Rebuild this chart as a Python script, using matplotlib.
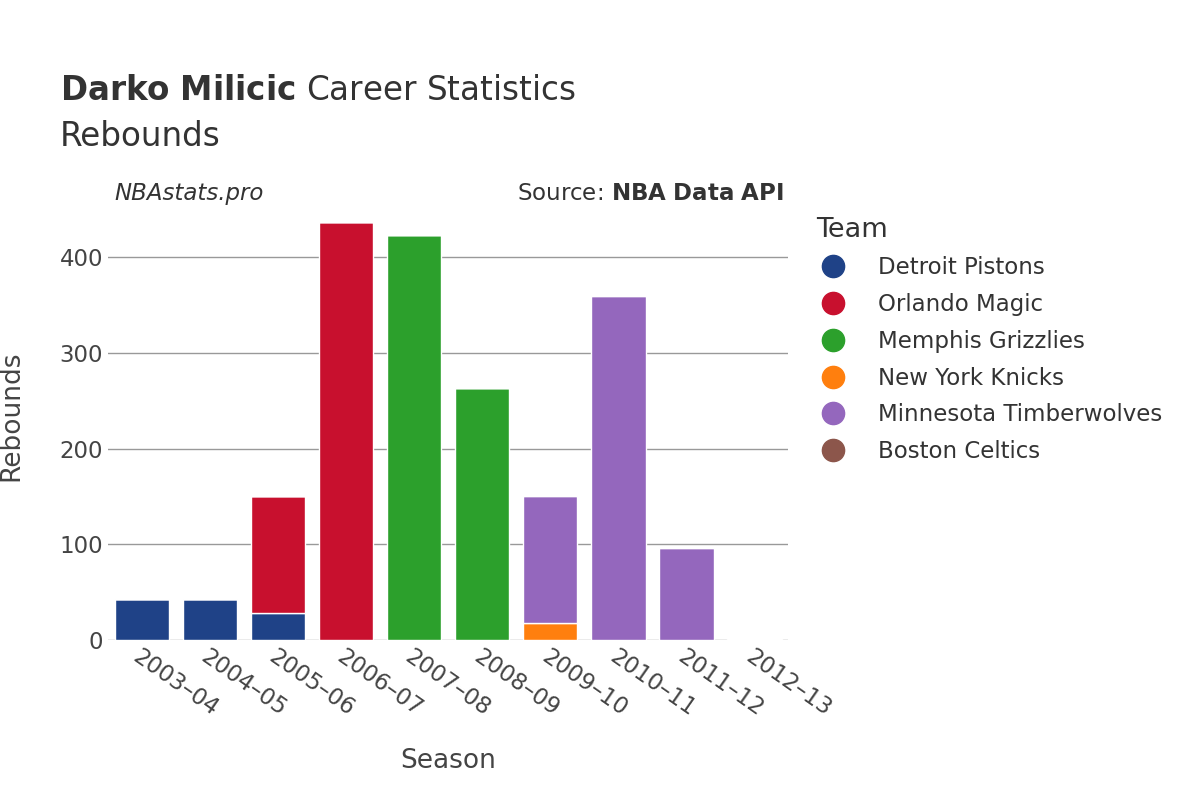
import matplotlib
matplotlib.use("Agg")
import matplotlib.pyplot as plt
from matplotlib.lines import Line2D
import numpy as np

seasons = ["2003–04","2004–05","2005–06","2006–07","2007–08","2008–09","2009–10","2010–11","2011–12","2012–13"]
teams = ["Detroit Pistons","Orlando Magic","Memphis Grizzlies","New York Knicks","Minnesota Timberwolves","Boston Celtics"]
colors = ["#1f4287","#c8102e","#2ca02c","#ff7f0e","#9467bd","#8c564b"]
detroit = [43,43,28,0,0,0,0,0,0,0]
orlando = [0,0,122,437,0,0,0,0,0,0]
memphis = [0,0,0,0,423,263,0,0,0,0]
knicks = [0,0,0,0,0,0,18,0,0,0]
minnesota = [0,0,0,0,0,0,132,359,96,0]
boston = [0,0,0,0,0,0,0,0,0,1]
series = [detroit, orlando, memphis, knicks, minnesota, boston]

fig = plt.figure(figsize=(12,8), dpi=100)
ax = fig.add_axes([0.09,0.2,0.567,0.56])
x = np.arange(len(seasons))
bottom = np.zeros(len(seasons))
for name, vals, c in zip(teams, series, colors):
    v = np.array(vals, float)
    ax.bar(x, v, bottom=bottom, width=0.8, color=c, label=name, edgecolor="white", linewidth=1)
    bottom += v
ax.set_xlim(-0.5, 9.5)
ax.set_ylim(0, 468)
ax.set_yticks([0,100,200,300,400])
ax.grid(axis="y", color="#999999", linewidth=1)
ax.set_axisbelow(True)
for s in ax.spines.values():
    s.set_visible(False)
ax.tick_params(length=0, labelsize=16.5, colors="#444444")
ax.set_xticks(x)
ax.set_xticklabels(seasons, rotation=-35, ha="left", rotation_mode="anchor", fontsize=16.5)
ax.set_xlabel("Season", fontsize=19, color="#444444", labelpad=20)
ax.set_ylabel("Rebounds", fontsize=19, color="#444444", labelpad=25)
fig.text(0.05, 0.875, r"$\bf{Darko\ Milicic}$ Career Statistics", fontsize=23.5, color="#333333")
fig.text(0.05, 0.818, "Rebounds", fontsize=23.5, color="#333333")
fig.text(0.095, 0.75, "NBAstats.pro", fontsize=16.5, style="italic", color="#333333")
fig.text(0.653, 0.75, r"Source: $\bf{NBA\ Data\ API}$", fontsize=16.5, color="#333333", ha="right")
handles = [Line2D([], [], marker="o", linestyle="", markersize=16, color=c) for c in colors]
leg = fig.legend(handles, teams, loc="upper left", bbox_to_anchor=(0.663, 0.755), frameon=False, fontsize=16.5,
                 title="Team", title_fontsize=19.5, handlelength=1.5, handletextpad=1.2, labelspacing=0.6,
                 labelcolor="#333333")
leg.get_title().set_color("#333333")
leg._legend_box.align = "left"
fig.savefig("out.png")
